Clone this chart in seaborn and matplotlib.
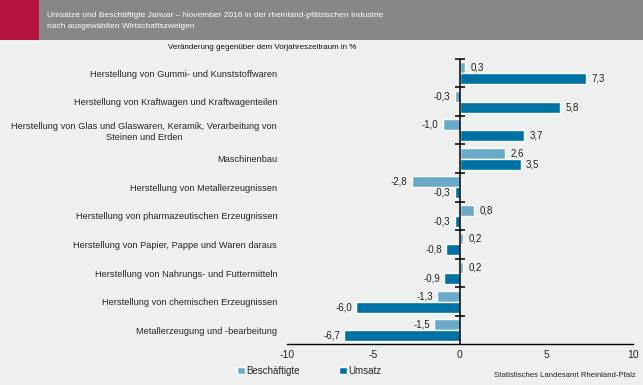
import numpy as np
import pandas as pd
import matplotlib
matplotlib.use("Agg")
import matplotlib.pyplot as plt
from matplotlib.patches import Rectangle
import seaborn as sns

# Data: change vs. previous-year period in %
branches = [
    "Herstellung von Gummi- und Kunststoffwaren",
    "Herstellung von Kraftwagen und Kraftwagenteilen",
    "Herstellung von Glas und Glaswaren, Keramik, Verarbeitung von\nSteinen und Erden",
    "Maschinenbau",
    "Herstellung von Metallerzeugnissen",
    "Herstellung von pharmazeutischen Erzeugnissen",
    "Herstellung von Papier, Pappe und Waren daraus",
    "Herstellung von Nahrungs- und Futtermitteln",
    "Herstellung von chemischen Erzeugnissen",
    "Metallerzeugung und -bearbeitung",
]
beschaeftigte = [0.3, -0.3, -1.0, 2.6, -2.8, 0.8, 0.2, 0.2, -1.3, -1.5]
umsatz = [7.3, 5.8, 3.7, 3.5, -0.3, -0.3, -0.8, -0.9, -6.0, -6.7]
series = ["Beschäftigte", "Umsatz"]
colors = ["#6aaac9", "#0071a3"]
xticks = [-10, -5, 0, 5, 10]

df = pd.DataFrame({
    "branch": branches * 2,
    "series": [series[0]] * len(branches) + [series[1]] * len(branches),
    "value": beschaeftigte + umsatz,
})

sns.set_style("white")
plt.rcParams["font.family"] = ["Liberation Sans", "DejaVu Sans"]
bg = "#eeefef"

fig = plt.figure(figsize=(6.43, 3.85), dpi=100, facecolor=bg)
ax = fig.add_axes([0.4463, 0.1052, 0.5381, 0.7423])
ax.set_facecolor(bg)

sns.barplot(data=df, y="branch", x="value", hue="series", order=branches,
            hue_order=series, palette=colors, orient="h", width=0.77,
            saturation=1, legend=False, ax=ax)

# value labels
for cont in ax.containers:
    for bar in cont:
        w = bar.get_width()
        yc = bar.get_y() + bar.get_height() / 2
        txt = f"{w:.1f}".replace(".", ",")
        if w >= 0:
            ax.annotate(txt, (w, yc), xytext=(4, 0), textcoords="offset points",
                        ha="left", va="center", fontsize=7, color="#222222")
        else:
            ax.annotate(txt, (w, yc), xytext=(-3, 0), textcoords="offset points",
                        ha="right", va="center", fontsize=7, color="#222222")

n = len(branches)
ax.set_xlim(-10, 10)
ax.set_ylim(n - 0.5, -0.5)
ax.set_xticks(xticks)
ax.set_xticklabels([str(t) for t in xticks], fontsize=7.5)
ax.set_xlabel("")
ax.set_ylabel("")
ax.tick_params(axis="x", direction="in", length=3, width=1, color="black", pad=4)
ax.tick_params(axis="y", length=0, pad=7)
for lab in ax.get_yticklabels():
    lab.set_fontsize(6.7)
    lab.set_multialignment("center")

for s in ["top", "right", "left"]:
    ax.spines[s].set_visible(False)
ax.spines["bottom"].set_color("black")
ax.spines["bottom"].set_linewidth(1)

# category axis at zero with boundary ticks
ax.axvline(0, color="black", lw=1.1, zorder=5)
bounds = np.arange(n) - 0.5
ax.plot(np.zeros(len(bounds)), bounds, ls="none", marker="_", ms=7,
        mew=1.1, color="black", zorder=5, clip_on=False)

# header banner
fig.patches.append(Rectangle((0, 0.896), 1, 0.104, transform=fig.transFigure,
                             facecolor="#878787", edgecolor="none", zorder=0))
fig.patches.append(Rectangle((0, 0.896), 0.061, 0.104, transform=fig.transFigure,
                             facecolor="#b5143e", edgecolor="none", zorder=1))
fig.text(0.073, 0.961, "Umsätze und Beschäftigte Januar – November 2016 in der rheinland-pfälzischen Industrie",
         color="white", fontsize=6.0, va="center", ha="left")
fig.text(0.073, 0.930, "nach ausgewählten Wirtschaftszweigen",
         color="white", fontsize=6.0, va="center", ha="left")

fig.text(0.408, 0.876, "Veränderung gegenüber dem Vorjahreszeitraum in %",
         fontsize=5.8, ha="center", va="center", color="#111111")

# legend
handles = [Rectangle((0, 0), 1, 1, facecolor=c) for c in colors]
fig.legend(handles, series, loc="center", bbox_to_anchor=(0.481, 0.036), ncol=2,
           frameon=False, fontsize=7, handlelength=0.8, handleheight=0.8,
           handletextpad=0.2, columnspacing=4)

fig.text(0.989, 0.024, "Statistisches Landesamt Rheinland-Pfalz", fontsize=5.6,
         ha="right", va="center", color="#222222")

fig.savefig("out.png", dpi=100, facecolor=bg)
